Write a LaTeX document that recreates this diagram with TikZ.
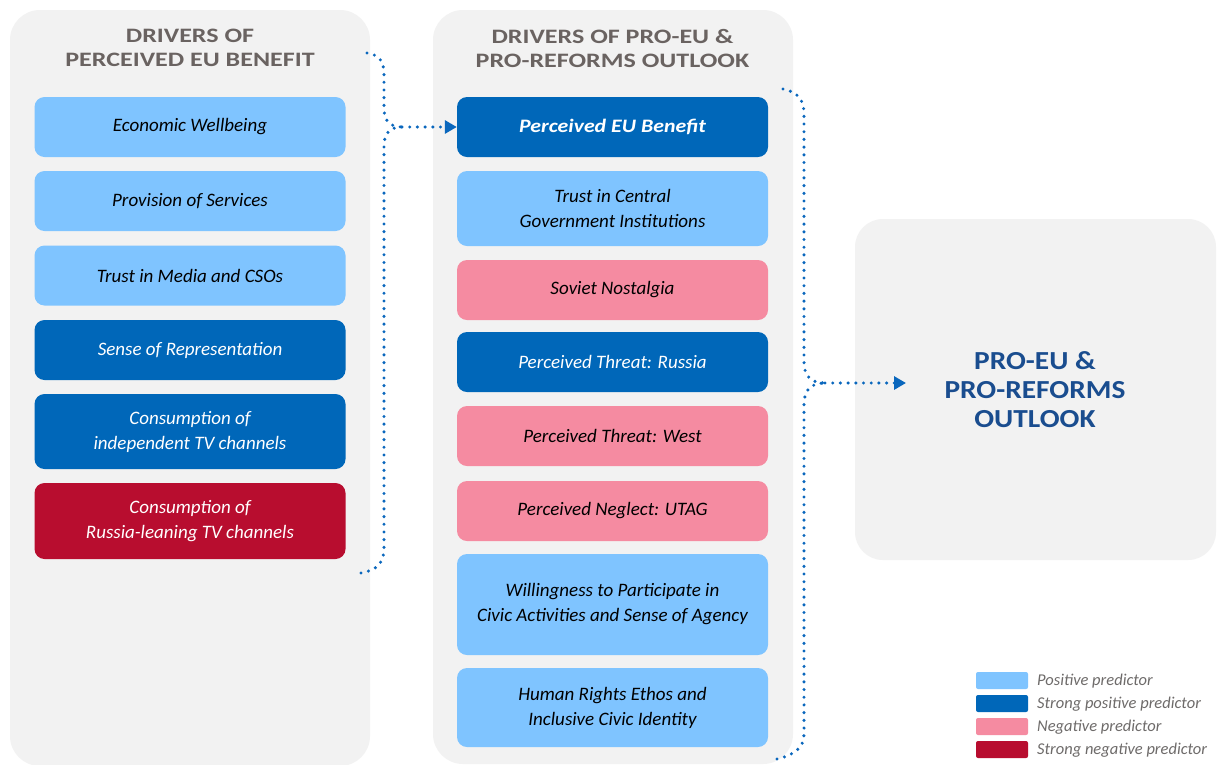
\documentclass[tikz,border=0pt]{standalone}
\usepackage{fontspec}
\setmainfont{Carlito}
\newfontfamily\headfont{Carlito}[FakeStretch=1.27]
\newfontfamily\benefitfont{Carlito}[FakeStretch=1.15]
\newfontfamily\outfont{Carlito}[FakeStretch=1.13]
\usetikzlibrary{arrows.meta}
\definecolor{panelgray}{HTML}{F2F2F2}
\definecolor{lblue}{HTML}{7FC4FF}
\definecolor{dblue}{HTML}{0067B9}
\definecolor{pinkc}{HTML}{F58BA1}
\definecolor{dred}{HTML}{B80D2F}
\definecolor{headgray}{HTML}{6A6361}
\definecolor{navy}{HTML}{1A4D8F}
\definecolor{dotblue}{HTML}{0A67BD}
\definecolor{legendgray}{HTML}{6E6B6A}
\begin{document}
\begin{tikzpicture}[x=1pt,y=-1pt,
 panelbox/.style={fill=panelgray, rounded corners=30pt, inner sep=0pt},
 drvbox/.style={rounded corners=10pt, minimum width=311pt, inner sep=0pt, align=center, font=\itshape\fontsize{19}{25}\selectfont},
 drvlight/.style={drvbox, fill=lblue, text=black},
 drvdark/.style={drvbox, fill=dblue, text=white},
 drvneg/.style={drvbox, fill=pinkc, text=black},
 drvsneg/.style={drvbox, fill=dred, text=white},
 headtext/.style={align=center, text=headgray, inner sep=0pt, font=\headfont\bfseries\fontsize{20.5}{24}\selectfont},
 dotline/.style={draw=dotblue, line width=3.4pt, line cap=round, dash pattern=on 0pt off 7.7pt},
 arrowend/.style={-{Triangle[length=12pt,width=13pt,fill=dotblue]}},
 legsw/.style={fill=#1, rounded corners=2pt, minimum width=52pt, minimum height=17pt, inner sep=0pt},
 legtext/.style={anchor=west, text=legendgray, font=\itshape\fontsize{16.5}{17}\selectfont, inner sep=0pt}
]
\clip (0,0) rectangle (1217,764);
\fill[white] (0,0) rectangle (1217,764);

% panels
\node[panelbox, minimum width=360pt, minimum height=756pt] (lpanel) at (190,388) {};
\node[panelbox, minimum width=360pt, minimum height=754pt] (mpanel) at (613,387) {};
\node[panelbox, minimum width=361pt, minimum height=341pt, rounded corners=28pt] (rpanel) at (1035.5,389.5) {};

% headers
\node[headtext] (lhead) at (190,48) {DRIVERS OF\\PERCEIVED EU BENEFIT};
\node[headtext] (mhead) at (612.5,48) {DRIVERS OF PRO-EU \&\\PRO-REFORMS OUTLOOK};
\node[align=center, text=navy, inner sep=0pt, font=\outfont\bfseries\fontsize{26}{29}\selectfont] (outcome) at (1035,390) {PRO-EU \&\\PRO-REFORMS\\OUTLOOK};

% left column
\node[drvlight, minimum height=60pt] (l1) at (190,127) {Economic Wellbeing};
\node[drvlight, minimum height=60pt] (l2) at (190,201) {Provision of Services};
\node[drvlight, minimum height=60pt] (l3) at (190,275.5) {Trust in Media and CSOs};
\node[drvdark, minimum height=60pt] (l4) at (190,350) {Sense of Representation};
\node[drvdark, minimum height=75pt] (l5) at (190,431.5) {Consumption of\\independent TV channels};
\node[drvsneg, minimum height=76pt] (l6) at (190,521) {Consumption of\\Russia-leaning TV channels};

% middle column
\node[drvdark, minimum height=60pt, font=\benefitfont\bfseries\itshape\fontsize{19}{25}\selectfont] (m1) at (612.5,127) {Perceived EU Benefit};
\node[drvlight, minimum height=75pt] (m2) at (612.5,208.5) {Trust in Central\\Government Institutions};
\node[drvneg, minimum height=60pt] (m3) at (612.5,290) {Soviet Nostalgia};
\node[drvdark, minimum height=60pt] (m4) at (612.5,362) {Perceived Threat: Russia};
\node[drvneg, minimum height=60pt] (m5) at (612.5,436) {Perceived Threat: West};
\node[drvneg, minimum height=60pt] (m6) at (612.5,511) {Perceived Neglect: UTAG};
\node[drvlight, minimum height=101pt] (m7) at (612.5,604.5) {Willingness to Participate in\\Civic Activities and Sense of Agency};
\node[drvlight, minimum height=79pt] (m8) at (612.5,707.5) {Human Rights Ethos and\\Inclusive Civic Identity};

% connector coordinates
\coordinate (lstart) at (367,53);
\coordinate (lstop) at (361,573);
\coordinate (ljoin) at (402,127);
\coordinate (rstart) at (783,89);
\coordinate (rstop) at (777,759);
\coordinate (rjoin) at (825,383);
\coordinate (rtip) at (906,383);

% left connector
\draw[dotline] (lstart) .. controls (380,55) and (384,62) .. (384,75) -- (384,108) .. controls (384,121) and (390,127) .. (ljoin);
\draw[dotline] (lstop) .. controls (378,570) and (384,562) .. (384,548) -- (384,146) .. controls (384,133) and (390,127) .. (ljoin);
\draw[dotline, arrowend] (ljoin) -- (m1.west);

% right connector
\draw[dotline] (rstart) .. controls (798,92) and (804,100) .. (804,114) -- (804,362) .. controls (804,376) and (811,383) .. (rjoin);
\draw[dotline] (rstop) .. controls (794,755) and (804,748) .. (804,734) -- (804,404) .. controls (804,390) and (811,383) .. (rjoin);
\draw[dotline, arrowend] (rjoin) -- (rtip);

% legend
\node[legsw=lblue] (k1) at (1002,680.5) {};
\node[legsw=dblue] (k2) at (1002,703.5) {};
\node[legsw=pinkc] (k3) at (1002,726.5) {};
\node[legsw=dred] (k4) at (1002,749.5) {};
\node[legtext] (t1) at (1037,681) {Positive predictor};
\node[legtext] (t2) at (1037,704) {Strong positive predictor};
\node[legtext] (t3) at (1037,727) {Negative predictor};
\node[legtext] (t4) at (1037,750) {Strong negative predictor};
\end{tikzpicture}
\end{document}
